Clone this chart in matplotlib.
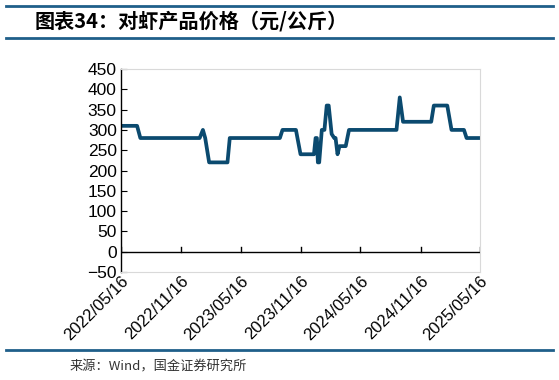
import matplotlib.pyplot as plt
import matplotlib.dates as mdates
import numpy as np
import pandas as pd

plt.rcParams['font.family'] = ['Liberation Sans', 'Noto Sans CJK SC', 'DejaVu Sans']

# price vertices (yuan/kg)
dates = ["2022-05-16", "2022-07-04", "2022-07-14", "2023-01-11", "2023-01-21",
         "2023-01-28", "2023-02-09", "2023-04-06", "2023-04-13", "2023-09-13",
         "2023-09-21", "2023-11-01", "2023-11-15", "2023-12-26", "2023-12-31",
         "2024-01-04", "2024-01-07", "2024-01-11", "2024-01-19", "2024-01-27",
         "2024-02-03", "2024-02-09", "2024-02-18", "2024-02-26", "2024-03-01",
         "2024-03-07", "2024-03-13", "2024-04-01", "2024-04-11", "2024-09-03",
         "2024-09-13", "2024-09-23", "2024-12-18", "2024-12-26", "2025-02-05",
         "2025-02-18", "2025-03-28", "2025-04-05", "2025-05-16"]
prices = [310, 310, 280, 280, 300,
          280, 220, 220, 280, 280,
          300, 300, 240, 240, 280,
          280, 220, 220, 300, 300,
          360, 360, 290, 280, 280,
          240, 260, 260, 300, 300,
          380, 320, 320, 360, 360,
          300, 300, 280, 280]
tick_dates = ["2022-05-16", "2022-11-16", "2023-05-16", "2023-11-16",
              "2024-05-16", "2024-11-16", "2025-05-16"]

df = pd.DataFrame({"date": pd.to_datetime(dates), "price": prices})
ticks = pd.to_datetime(tick_dates)

fig = plt.figure(figsize=(5.59, 3.8), dpi=100)
ax = fig.add_axes([0.2165, 0.2842, 0.6422, 0.5342])

ax.plot(df["date"], df["price"], color="#0B4A6F", lw=2.7, solid_joinstyle="round")

ax.set_xlim(ticks[0], ticks[-1])
ax.set_ylim(-50, 450)
ax.set_yticks(np.arange(-50, 451, 50))
ax.set_xticks(ticks)
ax.xaxis.set_major_formatter(mdates.DateFormatter("%Y/%m/%d"))

for s in ["top", "right", "bottom"]:
    ax.spines[s].set_color("#d9d9d9")
    ax.spines[s].set_linewidth(0.8)
ax.spines["left"].set_color("black")
ax.spines["left"].set_linewidth(1.0)
ax.axhline(0, color="black", lw=1.0, zorder=1)

ax.tick_params(axis="y", direction="in", length=4, labelsize=12.5, color="black", pad=3)
ax.tick_params(axis="x", direction="in", length=0, labelsize=12, pad=1)
# ticks on the zero line
for t in ticks:
    ax.plot([t, t], [0, 12], color="black", lw=1.0, zorder=1)
plt.setp(ax.get_xticklabels(), rotation=45, ha="right", rotation_mode="anchor")

# header and footer
fig.add_artist(plt.Line2D([0.01, 0.99], [1 - 6 / 380, 1 - 6 / 380], color="#1F5F8A", lw=2))
fig.add_artist(plt.Line2D([0.01, 0.99], [1 - 38 / 380, 1 - 38 / 380], color="#1F5F8A", lw=2))
fig.add_artist(plt.Line2D([0.01, 0.99], [1 - 350 / 380, 1 - 350 / 380], color="#1F5F8A", lw=2))
fig.text(35 / 559, 1 - 21 / 380, "图表34：对虾产品价格（元/公斤）", fontsize=14.5,
         fontweight="bold", style="italic", va="center", ha="left",
         family=["Noto Sans CJK SC", "DejaVu Sans"])
fig.text(70 / 559, 1 - 367 / 380, "来源：Wind，国金证券研究所", fontsize=9.5,
         va="center", ha="left", color="#333333",
         family=["Noto Sans CJK SC", "DejaVu Sans"])

plt.savefig("out.png", dpi=100)
